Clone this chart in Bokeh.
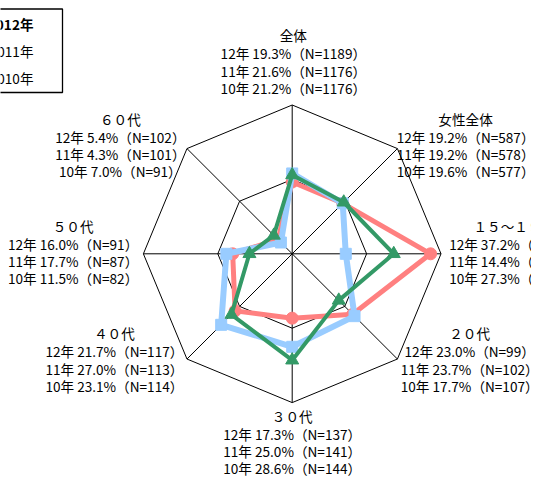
import math
from bokeh.plotting import figure
from bokeh.models import ColumnDataSource, Range1d
from bokeh.core.properties import value
from bokeh.embed import file_html
from bokeh.resources import INLINE

# ---- data ----
categories = ["全体", "女性全体", "１５～１９才", "２０代", "３０代", "４０代", "５０代", "６０代"]
series_names = ["2012年", "2011年", "2010年"]
year_tags = ["12年", "11年", "10年"]
v2012 = [19.3, 19.2, 37.2, 23.0, 17.3, 21.7, 16.0, 5.4]
v2011 = [21.6, 19.2, 14.4, 23.7, 25.0, 27.0, 17.7, 4.3]
v2010 = [21.2, 19.6, 27.3, 17.7, 28.6, 23.1, 11.5, 7.0]
n2012 = [1189, 587, 43, 99, 137, 117, 91, 102]
n2011 = [1176, 578, 36, 102, 141, 113, 87, 101]
n2010 = [1176, 577, 44, 107, 144, 114, 82, 91]
grid_levels = [20, 40]

# ---- layout ----
PX = 3.72  # pixels per percent
CX, CY = 291.7, 253.3  # centre in picture pixels
FONT = "Noto Sans CJK JP"
colors = ["#FF8080", "#99CCFF", "#339966"]
widths = [5, 6, 4]
# label block anchor (title centre) in data units
label_pos = [(0.3, 58.7), (46.6, 36.3), (59.7, 7.6), (47.7, -21.4),
             (0.0, -43.5), (-47.8, -21.4), (-58.9, 7.6), (-46.2, 36.3)]

W, H = 531, 477
p = figure(width=W, height=H, output_backend="svg", toolbar_location=None,
           x_range=Range1d((0 - CX) / PX, (W - CX) / PX),
           y_range=Range1d((CY - H) / PX, CY / PX),
           min_border=0, outline_line_color=None)
p.axis.visible = False
p.grid.visible = False

k = len(categories)
angles = [math.pi / 2 - i * 2 * math.pi / k for i in range(k)]

# grid polygons
for g in grid_levels:
    xs = [g * math.cos(a) for a in angles] + [g * math.cos(angles[0])]
    ys = [g * math.sin(a) for a in angles] + [g * math.sin(angles[0])]
    p.line(xs, ys, line_color="black", line_width=1)
# spokes
gmax = max(grid_levels)
p.segment(x0=[0] * k, y0=[0] * k,
          x1=[gmax * math.cos(a) for a in angles],
          y1=[gmax * math.sin(a) for a in angles],
          line_color="black", line_width=1)

# series
for vals, col, lw, marker in zip([v2012, v2011, v2010], colors, widths,
                                 ["circle", "square", "triangle"]):
    xs = [v * math.cos(a) for v, a in zip(vals, angles)]
    ys = [v * math.sin(a) for v, a in zip(vals, angles)]
    p.line(xs + [xs[0]], ys + [ys[0]], line_color=col, line_width=lw)
    size = {"circle": 12, "square": 11, "triangle": 13}[marker]
    p.scatter(xs, ys, marker=marker, size=size, fill_color=col, line_color=col)

# labels
lx, ly, lt, lo = [], [], [], []
for i, cat in enumerate(categories):
    x0, y0 = label_pos[i]
    lx.append(x0); ly.append(y0); lt.append(cat); lo.append(0)
    for j, (tag, vals, ns) in enumerate(zip(year_tags, [v2012, v2011, v2010], [n2012, n2011, n2010])):
        lx.append(x0); ly.append(y0)
        lt.append(f"{tag} {vals[i]:.1f}%（N={ns[i]}）")
        lo.append([18, 35.5, 52.5][j])
src = ColumnDataSource(dict(x=lx, y=ly, text=lt, yo=lo))
p.text(x="x", y="y", text="text", y_offset="yo", source=src,
       text_font=value(FONT), text_font_size="13.6px", text_color="black",
       text_align="center", text_baseline="middle")

# legend box (partly outside the visible area, as in the reference)
p.quad(left=[-90], right=[(62 - CX) / PX], top=[(CY - 8.5) / PX], bottom=[(CY - 92) / PX],
       fill_color="white", line_color="black", line_width=1.3)
leg_y = [(CY - 23) / PX, (CY - 50) / PX, (CY - 77) / PX]
for name, yy, st in zip(series_names, leg_y, ["bold", "normal", "normal"]):
    p.text(x=[(33 - CX) / PX], y=[yy], text=[name], text_font=value(FONT),
           text_font_size="13.6px", text_font_style=st, text_color="black",
           text_align="right", text_baseline="middle")

open("out.html", "w").write(file_html(p, INLINE))
